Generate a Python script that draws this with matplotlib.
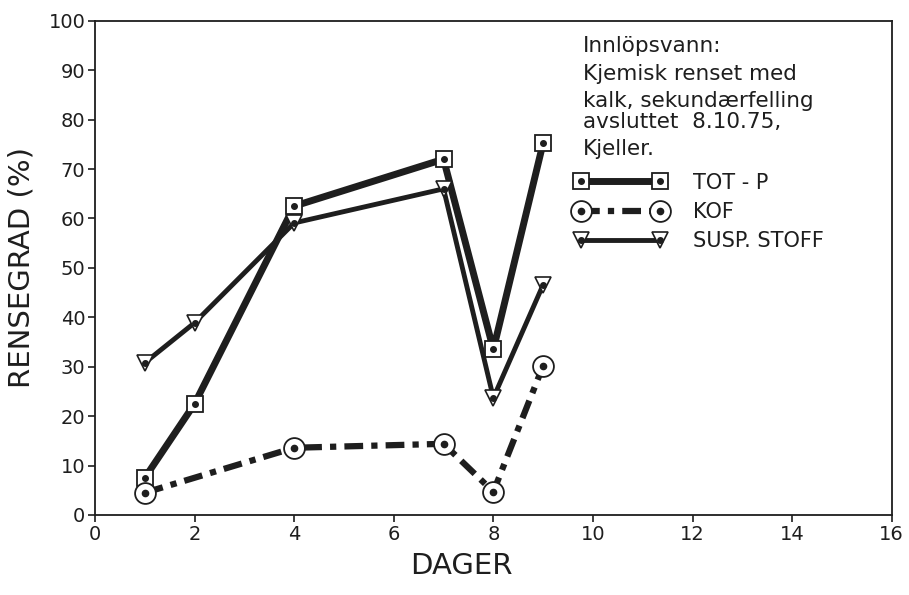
import matplotlib.pyplot as plt
from matplotlib.legend_handler import HandlerTuple

days = [1, 2, 4, 7, 8, 9]
tot_p = [7.5, 22.5, 62.5, 72, 33.5, 75.3]
kof_days = [1, 4, 7, 8, 9]
kof = [4.5, 13.6, 14.4, 4.7, 30.2]
susp_stoff = [30.8, 38.9, 59.1, 66, 23.7, 46.6]

note_lines = ['Innlöpsvann:', 'Kjemisk renset med', 'kalk, sekundærfelling',
              'avsluttet  8.10.75,', 'Kjeller.']
series_labels = ['TOT - P', 'KOF', 'SUSP. STOFF']

ink = '#1e1e1e'

fig = plt.figure(figsize=(9.09, 5.95), dpi=100)
ax = fig.add_axes([0.1045, 0.1345, 0.8765, 0.8305])

l1, = ax.plot(days, tot_p, color=ink, lw=5, marker='s', ms=11, mfc='white',
              mec=ink, mew=1.3, zorder=3)
d1, = ax.plot(days, tot_p, ls='none', marker='o', ms=4, color=ink, zorder=4)

l2, = ax.plot(kof_days, kof, color=ink, lw=4.5, dashes=(3, 1.3, 1, 1.3),
              dash_capstyle='butt', marker='o', ms=15, mfc='white', mec=ink,
              mew=1.3, zorder=3)
d2, = ax.plot(kof_days, kof, ls='none', marker='o', ms=4.5, color=ink, zorder=4)

l3, = ax.plot(days, susp_stoff, color=ink, lw=3.5, marker='v', ms=12,
              mfc='white', mec=ink, mew=1.2, zorder=3)
d3, = ax.plot(days, susp_stoff, ls='none', marker='o', ms=4, color=ink, zorder=4)

ax.set_xlim(0, 16)
ax.set_ylim(0, 100)
ax.set_xticks(range(0, 17, 2))
ax.set_yticks(range(0, 101, 10))
ax.tick_params(direction='out', length=5, width=1.2, labelsize=14, colors=ink,
               pad=2)
for s in ax.spines.values():
    s.set_linewidth(1.3)
    s.set_color(ink)

ax.set_xlabel('DAGER', fontsize=21, color=ink)
ax.xaxis.set_label_coords(0.46, -0.075)
ax.set_ylabel('RENSEGRAD (%)', fontsize=21, color=ink)
ax.yaxis.set_label_coords(-0.075, 0.5)

note_y = [95.0, 89.3, 83.8, 79.5, 74.0]
for txt, yy in zip(note_lines, note_y):
    ax.text(9.8, yy, txt, fontsize=15.5, color=ink, va='center', ha='left')

leg = ax.legend([(l1, d1), (l2, d2), (l3, d3)], series_labels,
                handler_map={tuple: HandlerTuple(ndivide=1)},
                numpoints=2, handlelength=4.4, fontsize=15, frameon=False,
                loc='upper left', bbox_to_anchor=(0.578, 0.731),
                labelspacing=0.45, handletextpad=1.3)
for t in leg.get_texts():
    t.set_color(ink)

fig.savefig('out.png', dpi=100)
